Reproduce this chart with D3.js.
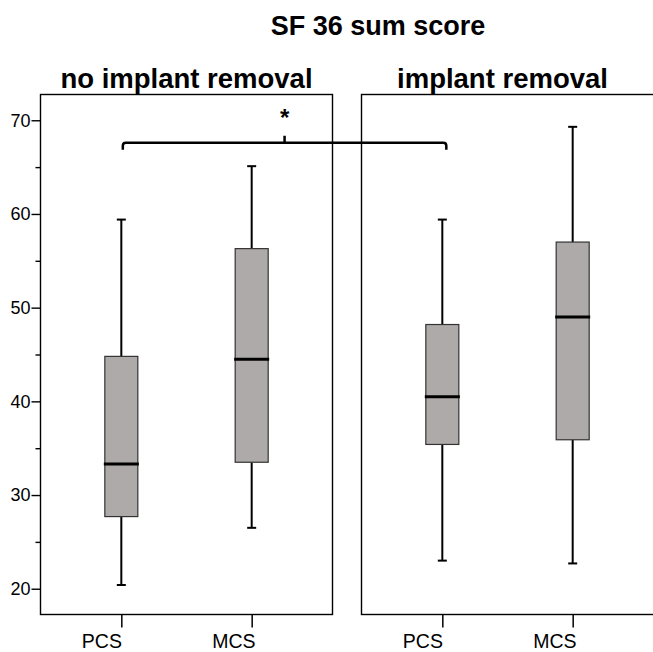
<!DOCTYPE html>
<html>
<head>
<meta charset="utf-8">
<script src="https://cdn.jsdelivr.net/npm/d3@7/dist/d3.min.js"></script>
<style>
  body { margin: 0; background: #fff; }
  svg { display: block; font-family: "Liberation Sans", Arial, sans-serif; }
</style>
</head>
<body>
<div id="chart"></div>
<script>
// data
const title = 'SF 36 sum score';
const groups = ['no implant removal', 'implant removal'];
const categories = ['PCS', 'MCS'];
// [min, q1, median, q3, max] per group, per category
const noRemoval = [
    [20.4, 27.7, 33.3, 44.8, 59.4],
    [26.5, 33.5, 44.5, 56.3, 65.1]
];
const removal = [
    [23.0, 35.4, 40.5, 48.2, 59.4],
    [22.7, 35.9, 49.0, 57.0, 69.3]
];
const yTicks = [20, 30, 40, 50, 60, 70];
const yMinorTicks = [25, 35, 45, 55, 65];
const sigLevel = 67.6;
const sigLabel = '*';

const boxes = [noRemoval, removal];

const width = 653;
const height = 652;
const plotTop = 94.5, plotBottom = 614.5;
const panelW = 292;
const panelX = [40.5, 361.5];
const frameW = [panelW, panelW + 4];   // right frame runs off the page
const titleDx = [0, -5];

const svg = d3.select('#chart')
    .append('svg')
    .attr('width', width)
    .attr('height', height);

const y = d3.scaleLinear()
    .domain([17.25, 72.75])
    .range([plotBottom, plotTop]);

const x = d3.scalePoint()
    .domain(categories)
    .range([0, panelW])
    .padding(0.62);

const boxW = 33;
const capW = 9;

svg.append('text')
    .attr('x', 378)
    .attr('y', 35)
    .attr('text-anchor', 'middle')
    .attr('font-size', 27)
    .attr('font-weight', 'bold')
    .text(title);

groups.forEach((name, gi) => {
    const g = svg.append('g')
        .attr('transform', `translate(${panelX[gi]},0)`);

    g.append('text')
        .attr('x', panelW / 2 + titleDx[gi])
        .attr('y', 88)
        .attr('text-anchor', 'middle')
        .attr('font-size', 27.5)
        .attr('font-weight', 'bold')
        .text(name);

    // x axis
    const xAxis = g.append('g')
        .attr('transform', `translate(0,${plotBottom})`)
        .call(d3.axisBottom(x).tickSize(13).tickSizeOuter(0));
    xAxis.select('.domain').remove();
    xAxis.selectAll('line').attr('stroke', '#000').attr('stroke-width', 1.5);
    xAxis.selectAll('text')
        .attr('font-size', 19.5)
        .attr('fill', '#000')
        .attr('text-anchor', 'start')
        .attr('x', -40)
        .attr('y', 33)
        .attr('dy', null);

    const data = boxes[gi];
    const b = g.selectAll('.box')
        .data(data)
        .enter()
        .append('g')
        .attr('class', 'box')
        .attr('transform', (d, i) => `translate(${x(categories[i])},0)`);

    // whiskers
    b.append('line')
        .attr('y1', d => y(d[0])).attr('y2', d => y(d[1]))
        .attr('stroke', '#000').attr('stroke-width', 2);
    b.append('line')
        .attr('y1', d => y(d[3])).attr('y2', d => y(d[4]))
        .attr('stroke', '#000').attr('stroke-width', 2);
    b.selectAll('.cap')
        .data(d => [d[0], d[4]])
        .enter()
        .append('line')
        .attr('class', 'cap')
        .attr('x1', -capW / 2).attr('x2', capW / 2)
        .attr('y1', d => y(d)).attr('y2', d => y(d))
        .attr('stroke', '#000').attr('stroke-width', 2);

    b.append('rect')
        .attr('x', -boxW / 2)
        .attr('width', boxW)
        .attr('y', d => y(d[3]))
        .attr('height', d => y(d[1]) - y(d[3]))
        .attr('fill', '#aeaaa9')
        .attr('stroke', '#333')
        .attr('stroke-width', 1.2);

    b.append('line')
        .attr('x1', -boxW / 2 - 1).attr('x2', boxW / 2 + 1)
        .attr('y1', d => y(d[2])).attr('y2', d => y(d[2]))
        .attr('stroke', '#000').attr('stroke-width', 3);

    g.append('rect')
        .attr('x', 0)
        .attr('y', plotTop)
        .attr('width', frameW[gi])
        .attr('height', plotBottom - plotTop)
        .attr('fill', 'none')
        .attr('stroke', '#000')
        .attr('stroke-width', 1.4);
});

// y axis on the left panel
const yAxis = svg.append('g')
    .attr('transform', `translate(${panelX[0]},0)`)
    .call(d3.axisLeft(y).tickValues(yTicks).tickSize(9).tickPadding(1).tickSizeOuter(0));
yAxis.select('.domain').remove();
yAxis.selectAll('line').attr('stroke', '#000').attr('stroke-width', 1.4);
yAxis.selectAll('text').attr('font-size', 18).attr('fill', '#000');

const yMinor = svg.append('g')
    .attr('transform', `translate(${panelX[0]},0)`)
    .call(d3.axisLeft(y).tickValues(yMinorTicks).tickSize(5).tickFormat('').tickSizeOuter(0));
yMinor.select('.domain').remove();
yMinor.selectAll('line').attr('stroke', '#000').attr('stroke-width', 1.4);

// significance bracket between the two PCS boxes
const x1 = panelX[0] + x('PCS') + 1.5;
const x2 = panelX[1] + x('PCS') + 4;
const yb = y(sigLevel);
const r = 3;
const mid = (x1 + x2) / 2;
svg.append('path')
    .attr('d', `M${x1},${yb + 7} L${x1},${yb + r} Q${x1},${yb} ${x1 + r},${yb} ` +
        `L${x2 - r},${yb} Q${x2},${yb} ${x2},${yb + r} L${x2},${yb + 7}`)
    .attr('fill', 'none')
    .attr('stroke', '#000')
    .attr('stroke-width', 2.5);
svg.append('line')
    .attr('x1', mid).attr('x2', mid)
    .attr('y1', yb).attr('y2', yb - 7)
    .attr('stroke', '#000')
    .attr('stroke-width', 2.5);
svg.append('text')
    .attr('x', mid)
    .attr('y', yb - 17)
    .attr('text-anchor', 'middle')
    .attr('font-size', 24)
    .attr('font-weight', 'bold')
    .text(sigLabel);
</script>
</body>
</html>
